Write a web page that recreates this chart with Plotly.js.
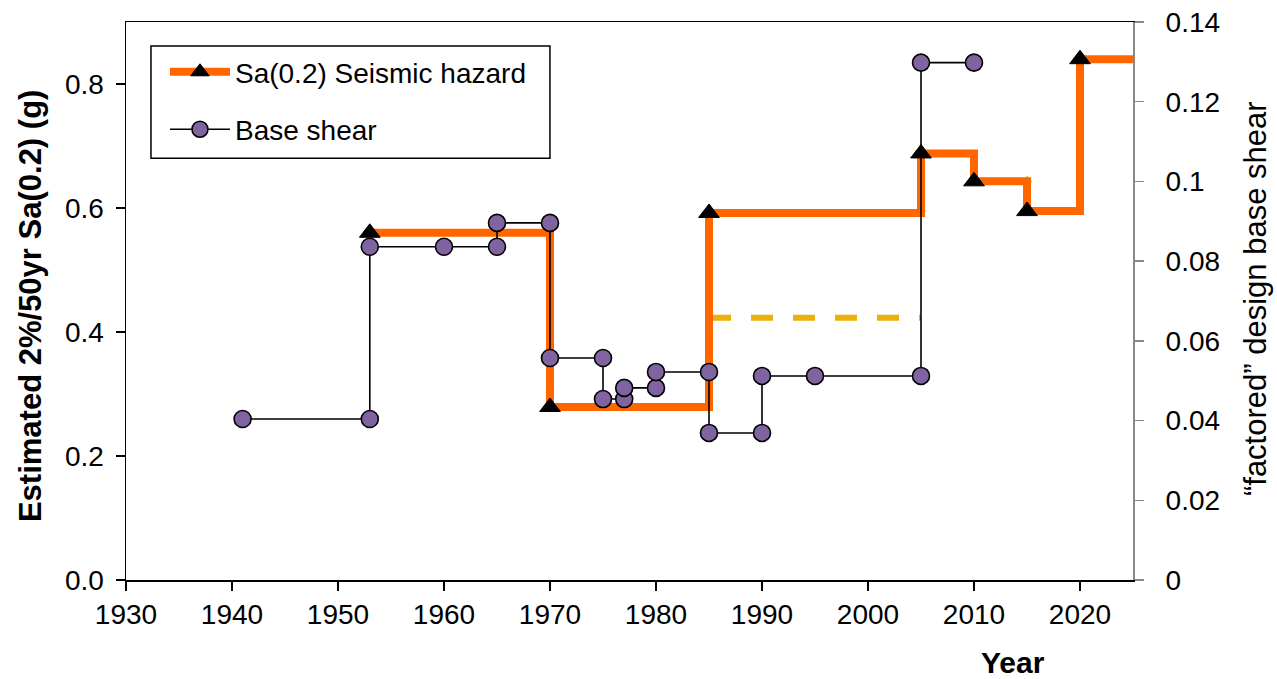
<!DOCTYPE html>
<html><head><meta charset="utf-8">
<script src="https://cdn.plot.ly/plotly-3.0.1.min.js"></script>
<style>html,body{margin:0;padding:0;background:#fff}#chart{width:1277px;height:679px}</style>
</head><body><div id="chart"></div>
<script>
// Seismic hazard (left axis, g)
const hazardYears = [1953, 1970, 1985, 2005, 2010, 2015, 2020];
const hazardSa = [0.56, 0.279, 0.592, 0.688, 0.643, 0.595, 0.84];
const hazardEndYear = 2025;
// Alternative hazard estimate (dashed)
const altYears = [1985, 2005];
const altSa = [0.423, 0.423];
const altMarkYears = [2015];
const altMarkSa = [0.645];
// Base shear (right axis)
const shearYears = [1941, 1953, 1953, 1960, 1965, 1965, 1970, 1970, 1975, 1975, 1977, 1977, 1980, 1980, 1985, 1985, 1990, 1990, 1995, 2005, 2005, 2010];
const shearValues = [0.0404, 0.0404, 0.0836, 0.0836, 0.0836, 0.0896, 0.0896, 0.0557, 0.0557, 0.0454, 0.0454, 0.0482, 0.0482, 0.0522, 0.0522, 0.0369, 0.0369, 0.0512, 0.0512, 0.0512, 0.1298, 0.1298];
// Ticks
const xTicks = [1930, 1940, 1950, 1960, 1970, 1980, 1990, 2000, 2010, 2020];
const leftTicks = [0, 0.2, 0.4, 0.6, 0.8];
const rightTicks = [0, 0.02, 0.04, 0.06, 0.08, 0.1, 0.12, 0.14];
const rightTickLabels = ['0', '0.02', '0.04', '0.06', '0.08', '0.1', '0.12', '0.14'];

const FONT = 'Liberation Sans, Arial, sans-serif';
const orange = '#FF6600';

const traces = [
  {x: altYears, y: altSa, mode: 'lines', line: {color: '#EBB00A', width: 6, dash: '22px,20px'}, showlegend: false, hoverinfo: 'skip'},
  {x: altMarkYears, y: altMarkSa, mode: 'markers', marker: {symbol: 'triangle-up', size: 9, color: '#F5B800'}, showlegend: false, hoverinfo: 'skip'},
  {x: [hazardYears[hazardYears.length - 1], hazardEndYear], y: [hazardSa[hazardSa.length - 1], hazardSa[hazardSa.length - 1]],
   mode: 'lines', line: {color: orange, width: 8}, showlegend: false, hoverinfo: 'skip'},
  {x: hazardYears, y: hazardSa, mode: 'lines+markers', name: 'Sa(0.2) Seismic hazard', legendgroup: 'a',
   line: {color: orange, width: 8, shape: 'hv'},
   marker: {symbol: 'triangle-up', size: 18, color: '#000', line: {color: '#000', width: 1}}},
  {x: shearYears, y: shearValues, yaxis: 'y2', mode: 'lines+markers', name: 'Base shear', legendgroup: 'b',
   line: {color: '#000', width: 1.6},
   marker: {symbol: 'circle', size: 17, color: '#8064A2', line: {color: '#000', width: 1.6}}}
];

const layout = {
  width: 1277, height: 679,
  margin: {l: 126, r: 144, t: 22, b: 99, pad: 0},
  paper_bgcolor: '#fff', plot_bgcolor: '#fff',
  font: {family: FONT, size: 28, color: '#000'},
  showlegend: true,
  legend: {x: 0.0387, y: 0.955, xanchor: 'left', yanchor: 'top', bgcolor: 'rgba(0,0,0,0)', borderwidth: 0,
           font: {family: FONT, size: 28, color: '#000'}, traceorder: 'grouped', tracegroupgap: 18, itemwidth: 60},
  shapes: [
    {type: 'rect', xref: 'paper', yref: 'paper', x0: 0.0248, x1: 0.421, y0: 0.756, y1: 0.957,
     line: {color: '#000', width: 1.5}, fillcolor: 'rgba(255,255,255,1)', layer: 'below'}
  ],
  xaxis: {range: [1930, 2025], tickvals: xTicks, ticks: 'outside', ticklen: 9, tickwidth: 1.5, tickcolor: '#000',
          showline: true, linecolor: '#000', linewidth: 1.5, mirror: true, showgrid: false, zeroline: false,
          tickfont: {family: FONT, size: 28}, ticklabelstandoff: 0},
  yaxis: {range: [0, 0.9], tickvals: leftTicks, tickformat: '.1f', ticks: 'outside', ticklen: 9, tickwidth: 1.5, tickcolor: '#000',
          showline: true, linecolor: '#000', linewidth: 1.5, showgrid: false, zeroline: false,
          tickfont: {family: FONT, size: 28}, ticklabelstandoff: 6},
  yaxis2: {range: [0, 0.14], overlaying: 'y', side: 'right', tickvals: rightTicks, ticktext: rightTickLabels,
           ticks: 'outside', ticklen: 9, tickwidth: 1.5, tickcolor: '#888', showline: true, linecolor: '#888', linewidth: 2,
           showgrid: false, zeroline: false, tickfont: {family: FONT, size: 28}, ticklabelstandoff: 16},
  annotations: [
    {text: '<b>Estimated 2%/50yr Sa(0.2) (g)</b>', xref: 'paper', yref: 'paper', x: -0.0953, y: 0.491, textangle: -90,
     showarrow: false, font: {family: FONT, size: 31}, xanchor: 'center', yanchor: 'middle'},
    {text: '“factored” design base shear', xref: 'paper', yref: 'paper', x: 1.121, y: 0.505, textangle: -90,
     showarrow: false, font: {family: FONT, size: 31}, xanchor: 'center', yanchor: 'middle'},
    {text: '<b>Year</b>', xref: 'paper', yref: 'paper', x: 0.881, y: -0.148, showarrow: false,
     font: {family: FONT, size: 30}, xanchor: 'center', yanchor: 'middle'}
  ]
};

Plotly.newPlot('chart', traces, layout, {displayModeBar: false, staticPlot: true});
</script>
</body></html>
